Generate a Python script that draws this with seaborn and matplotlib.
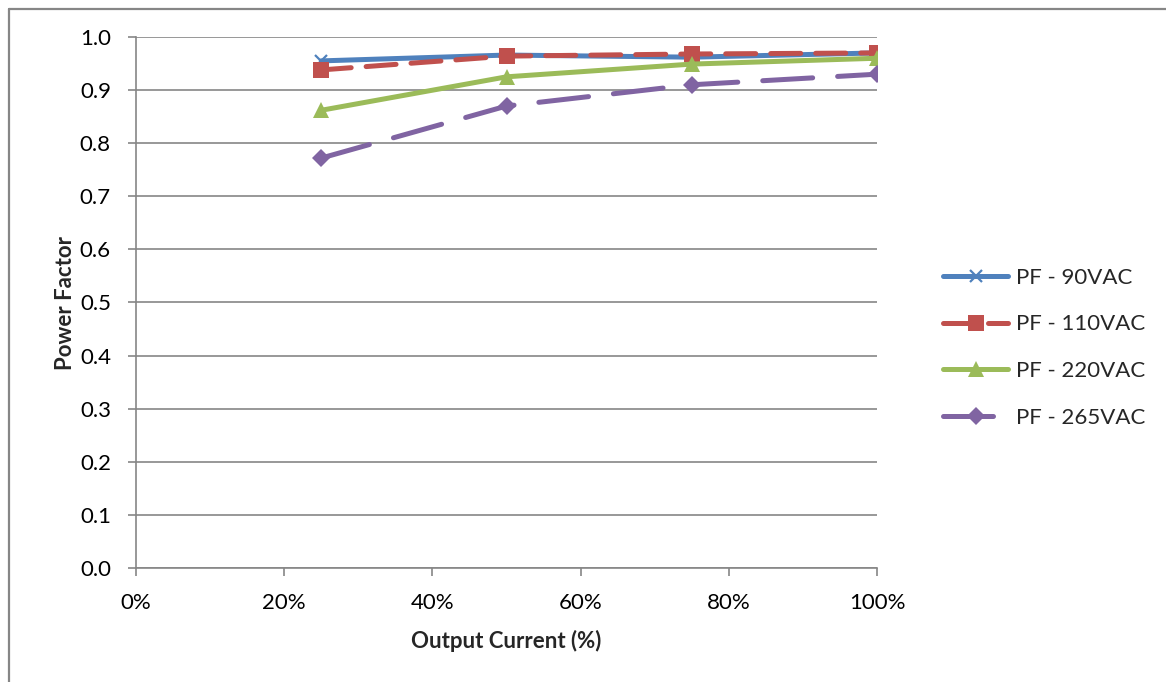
import matplotlib
matplotlib.use("Agg")
import matplotlib.pyplot as plt
from matplotlib.lines import Line2D
from matplotlib.ticker import PercentFormatter, MultipleLocator, FormatStrFormatter
import seaborn as sns
import pandas as pd

# Measured power factor versus output load
output_current = [25, 50, 75, 100]
pf_90vac = [0.955, 0.966, 0.962, 0.970]
pf_110vac = [0.938, 0.964, 0.968, 0.970]
pf_220vac = [0.862, 0.925, 0.949, 0.960]
pf_265vac = [0.772, 0.870, 0.910, 0.930]
series_names = ["PF - 90VAC", "PF - 110VAC", "PF - 220VAC", "PF - 265VAC"]

sns.set_theme(style="white")
plt.rcParams["font.family"] = ["Lato", "DejaVu Sans"]

frames = []
for name, vals in zip(series_names, [pf_90vac, pf_110vac, pf_220vac, pf_265vac]):
    frames.append(pd.DataFrame({"current": output_current, "pf": vals, "series": name}))
df = pd.concat(frames, ignore_index=True)

styles = {
    "PF - 90VAC": dict(color="#4F81BD", marker="x", ms=9, mew=1.6, dashes=None),
    "PF - 110VAC": dict(color="#C0504D", marker="s", ms=11, mew=0, dashes=(6, 3)),
    "PF - 220VAC": dict(color="#9BBB59", marker="^", ms=11, mew=0, dashes=None),
    "PF - 265VAC": dict(color="#8064A2", marker="D", ms=9, mew=0, dashes=(10, 5)),
}

fig = plt.figure(figsize=(11.66, 6.82), dpi=100)
ax = fig.add_axes([136 / 1166, 1 - 568 / 682, (877 - 136) / 1166, (568 - 37) / 682])

grid_col = "#868686"
for name in series_names:
    st = styles[name]
    sub = df[df["series"] == name]
    sns.lineplot(data=sub, x="current", y="pf", ax=ax, color=st["color"], lw=3.6,
                 marker=st["marker"], markersize=st["ms"], markeredgewidth=st["mew"],
                 markeredgecolor=st["color"], markerfacecolor=st["color"],
                 legend=False, solid_capstyle="round", dash_capstyle="round")
    line = ax.get_lines()[-1]
    if st["dashes"] is not None:
        line.set_dashes(st["dashes"])

ax.set_xlim(0, 100)
ax.set_ylim(0, 1.0)
ax.xaxis.set_major_locator(MultipleLocator(20))
ax.xaxis.set_major_formatter(PercentFormatter(decimals=0))
ax.yaxis.set_major_locator(MultipleLocator(0.1))
ax.yaxis.set_major_formatter(FormatStrFormatter("%.1f"))
ax.yaxis.grid(True, color=grid_col, lw=1.2)
ax.set_axisbelow(True)
for s in ["top", "right"]:
    ax.spines[s].set_visible(False)
for s in ["left", "bottom"]:
    ax.spines[s].set_color(grid_col)
    ax.spines[s].set_linewidth(1.2)
ax.tick_params(axis="both", which="major", direction="out", length=6, width=1.2,
               color=grid_col, labelsize=16, labelcolor="black", left=True, bottom=True)
ax.tick_params(axis="x", pad=12)
ax.tick_params(axis="y", pad=12)
ax.set_xlabel("Output Current (%)", fontsize=16, fontweight="bold", labelpad=12)
ax.set_ylabel("Power Factor", fontsize=16, fontweight="bold", labelpad=3)

handles = []
for name in series_names:
    st = styles[name]
    h = Line2D([], [], color=st["color"], lw=3.6, marker=st["marker"], markersize=st["ms"],
               markeredgewidth=st["mew"], markeredgecolor=st["color"],
               markerfacecolor=st["color"], solid_capstyle="round", dash_capstyle="round")
    if st["dashes"] is not None:
        h.set_dashes(st["dashes"])
    handles.append(h)
fig.legend(handles, series_names, loc="center left", bbox_to_anchor=(0.792, 0.49),
           frameon=False, fontsize=16, handlelength=2.9, labelspacing=1.2,
           handletextpad=0.35)

# Outer chart border
fig.add_artist(Line2D([9 / 1166, 9 / 1166], [0, 1 - 9 / 682], transform=fig.transFigure,
                      color=grid_col, lw=1.6))
fig.add_artist(Line2D([9 / 1166, 1], [1 - 9 / 682, 1 - 9 / 682], transform=fig.transFigure,
                      color=grid_col, lw=1.6))

fig.savefig("out.png", dpi=100, facecolor="white")
